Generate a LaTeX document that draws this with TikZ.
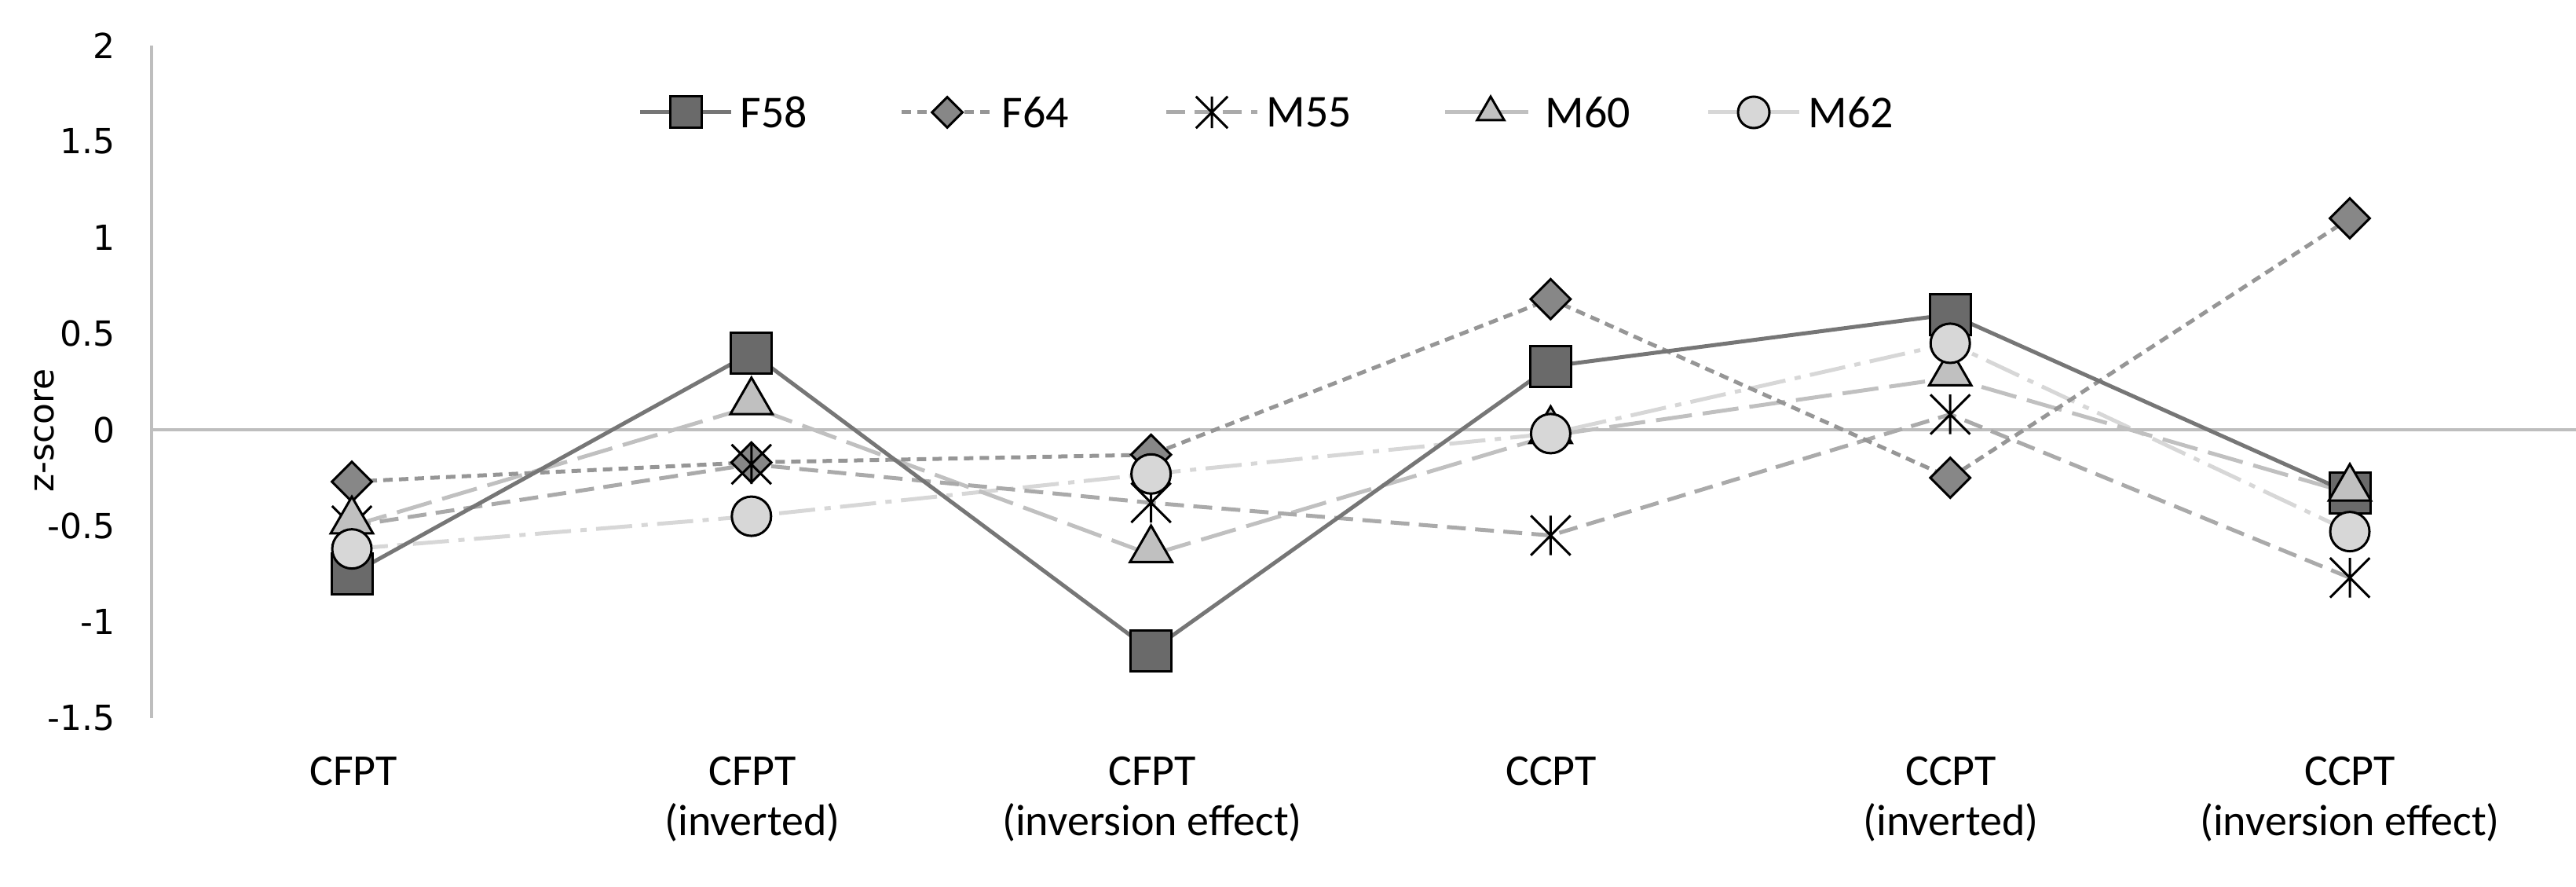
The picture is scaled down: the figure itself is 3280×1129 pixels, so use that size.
\documentclass[tikz,border=0pt]{standalone}
\usepackage{fontspec}
\setmainfont{Carlito}
\newfontfamily\tickfont{DejaVu Sans}
\usetikzlibrary{shapes.geometric}
\definecolor{cA}{RGB}{118,118,118}
\definecolor{cB}{RGB}{150,150,150}
\definecolor{cC}{RGB}{170,170,170}
\definecolor{cD}{RGB}{192,192,192}
\definecolor{cE}{RGB}{215,215,215}
\definecolor{axisc}{RGB}{190,190,190}
\begin{document}
\begin{tikzpicture}[x=1pt,y=1pt,
  mk/.style={draw=black,line width=3pt,inner sep=0pt},
  sq/.style={mk,rectangle,minimum size=52pt,fill=cA!90!black},
  di/.style={mk,diamond,minimum size=52pt,fill=cB!90!black},
  tr/.style={mk,regular polygon,regular polygon sides=3,minimum size=62pt,fill=cD},
  ci/.style={mk,circle,minimum size=50pt,fill=cE},
  st/.style={inner sep=0pt,minimum size=50pt},
  lA/.style={cA,line width=5pt},
  lB/.style={cB,line width=5pt,dash pattern=on 12pt off 8pt},
  lC/.style={cC,line width=5pt,dash pattern=on 24pt off 12pt},
  lD/.style={cD,line width=5pt,dash pattern=on 46pt off 14pt},
  lE/.style={cE,line width=5pt,dash pattern=on 46pt off 12pt on 8pt off 12pt},
  tick/.style={font=\tickfont\fontsize{44}{50}\selectfont,anchor=east},
  cat/.style={font=\fontsize{56}{64}\selectfont,align=center,anchor=north},
  leg/.style={font=\fontsize{58}{64}\selectfont,anchor=west}]
\useasboundingbox (0,0) rectangle (3280,-1129);
% axes
\coordinate (ytop) at (193,-58);
\coordinate (ybot) at (193,-914);
\coordinate (z0) at (193,-547);
\coordinate (z1) at (3280,-547);
\draw[axisc,line width=4pt] (ytop) -- (ybot);
\draw[axisc,line width=4pt] (z0) -- (z1);
\foreach \v/\t in {2/2,1.5/1.5,1/1,0.5/0.5,0/0,-0.5/-0.5,-1/-1,-1.5/-1.5}
  \node[tick] (t\t) at (150,{-547+244.6*\v}) {\t};
\node[font=\tickfont\fontsize{44}{50}\selectfont,rotate=90] (ylab) at (56,-548) {z-score};
% categories
\node[cat] (c1) at (450,-960) {CFPT};
\node[cat] (c2) at (958,-960) {CFPT\\(inverted)};
\node[cat] (c3) at (1467,-960) {CFPT\\(inversion effect)};
\node[cat] (c4) at (1975,-960) {CCPT};
\node[cat] (c5) at (2484,-960) {CCPT\\(inverted)};
\node[cat] (c6) at (2992,-960) {CCPT\\(inversion effect)};
% data
\def\pt#1#2#3{\coordinate (#1-#2) at ({448+508.8*(#2-1)},{-547+244.6*#3});}
\foreach \i/\v in {1/-0.75,2/0.4,3/-1.15,4/0.33,5/0.6,6/-0.33} {\pt{A}{\i}{\v}}
\foreach \i/\v in {1/-0.27,2/-0.17,3/-0.13,4/0.68,5/-0.25,6/1.1} {\pt{B}{\i}{\v}}
\foreach \i/\v in {1/-0.5,2/-0.18,3/-0.38,4/-0.55,5/0.08,6/-0.77} {\pt{C}{\i}{\v}}
\foreach \i/\v in {1/-0.5,2/0.12,3/-0.65,4/-0.03,5/0.27,6/-0.33} {\pt{D}{\i}{\v}}
\foreach \i/\v in {1/-0.62,2/-0.45,3/-0.23,4/-0.02,5/0.45,6/-0.53} {\pt{E}{\i}{\v}}
\draw[lE] (E-1)--(E-2)--(E-3)--(E-4)--(E-5)--(E-6);
\draw[lD] (D-1)--(D-2)--(D-3)--(D-4)--(D-5)--(D-6);
\draw[lC] (C-1)--(C-2)--(C-3)--(C-4)--(C-5)--(C-6);
\draw[lB] (B-1)--(B-2)--(B-3)--(B-4)--(B-5)--(B-6);
\draw[lA] (A-1)--(A-2)--(A-3)--(A-4)--(A-5)--(A-6);
\foreach \i in {1,...,6} {
  \node[sq] (mA\i) at (A-\i) {};
  \node[di] (mB\i) at (B-\i) {};
  \node[st] (mC\i) at (C-\i) {};
  \draw[black,line width=3pt] (mC\i.north west)--(mC\i.south east) (mC\i.north east)--(mC\i.south west) (mC\i.north)--(mC\i.south);
  \node[tr] (mD\i) at ([yshift=6pt]D-\i) {};
  \node[ci] (mE\i) at (E-\i) {};
}
% legend
\foreach \k/\x/\s/\l/\n in {A/815/sq/lA/F58,B/1148/di/lB/F64,C/1485/st/lC/M55,D/1840/tr/lD/M60,E/2175/ci/lE/M62} {
  \coordinate (g\k a) at (\x,-143);
  \coordinate (g\k b) at (\x+116,-143);
  \draw[\l] (g\k a) -- (g\k b);
  \node[\s,minimum size=40pt] (g\k m) at (\x+58,-143) {};
  \node[leg] (g\k t) at (\x+124,-143) {\n};
}
\draw[black,line width=3pt] (gCm.north west)--(gCm.south east) (gCm.north east)--(gCm.south west) (gCm.north)--(gCm.south);
\end{tikzpicture}
\end{document}
